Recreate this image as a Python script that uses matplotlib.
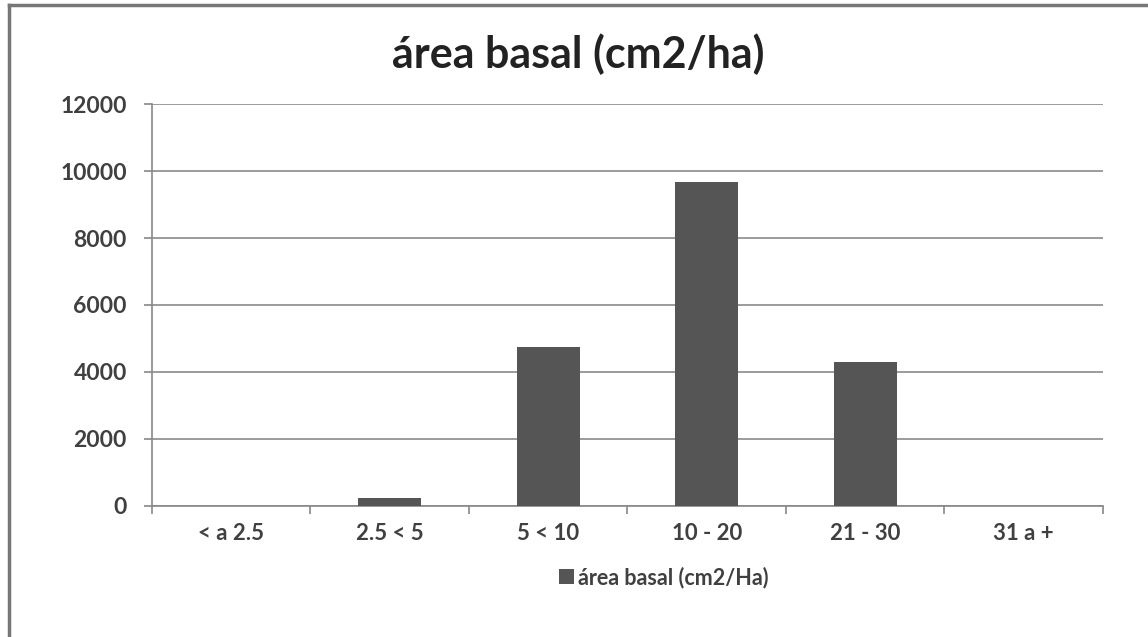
import matplotlib.pyplot as plt
from matplotlib.lines import Line2D

# datos
clases = ["< a 2.5", "2.5 < 5", "5 < 10", "10 - 20", "21 - 30", "31 a +"]
area_basal = [0, 240, 4740, 9660, 4310, 0]
yticks = [0, 2000, 4000, 6000, 8000, 10000, 12000]

plt.rcParams['font.family'] = ['Lato', 'DejaVu Sans']
txt = '#404040'

fig = plt.figure(figsize=(11.48, 6.37), dpi=100)
ax = fig.add_axes([0.1324, 0.2057, 0.8284, 0.631])

x = list(range(len(clases)))
ax.bar(x, area_basal, width=0.4, color='#555555', zorder=3, label='área basal (cm2/Ha)')

ax.set_xlim(-0.5, len(clases) - 0.5)
ax.set_ylim(0, 12000)
ax.set_yticks(yticks)
ax.set_yticklabels([str(v) for v in yticks], fontsize=16.5, fontweight='bold', color=txt)
ax.yaxis.grid(True, color='#8a8a8a', linewidth=1.2, zorder=0)

ax.set_xticks([i - 0.5 for i in range(len(clases) + 1)])
ax.set_xticklabels([])
ax.set_xticks(x, minor=True)
ax.set_xticklabels(clases, minor=True, fontsize=16, fontweight='bold', color=txt)
ax.tick_params(axis='x', which='minor', length=0, pad=12)
ax.tick_params(axis='x', which='major', length=6, color='#888888', width=1.2)
ax.tick_params(axis='y', length=6, color='#888888', width=1.2, pad=12)

for s in ['top', 'right']:
    ax.spines[s].set_visible(False)
for s in ['left', 'bottom']:
    ax.spines[s].set_color('#888888')
    ax.spines[s].set_linewidth(1.2)

fig.text(0.504, 0.915, 'área basal (cm2/ha)', ha='center', va='center',
         fontsize=31, fontweight='bold', color='#222222')

leg = fig.legend(loc='center', bbox_to_anchor=(0.578, 0.094), frameon=False,
                 handlelength=0.7, handleheight=0.7, handletextpad=0.2,
                 prop={'size': 15.5, 'weight': 'bold'})
for t in leg.get_texts():
    t.set_color(txt)

# marco del grafico
fig.add_artist(Line2D([0.008, 0.008], [0, 0.992], transform=fig.transFigure,
                      color='#777777', linewidth=2.5))
fig.add_artist(Line2D([0.008, 1], [0.992, 0.992], transform=fig.transFigure,
                      color='#777777', linewidth=2.5))

fig.savefig('out.png', dpi=100)
